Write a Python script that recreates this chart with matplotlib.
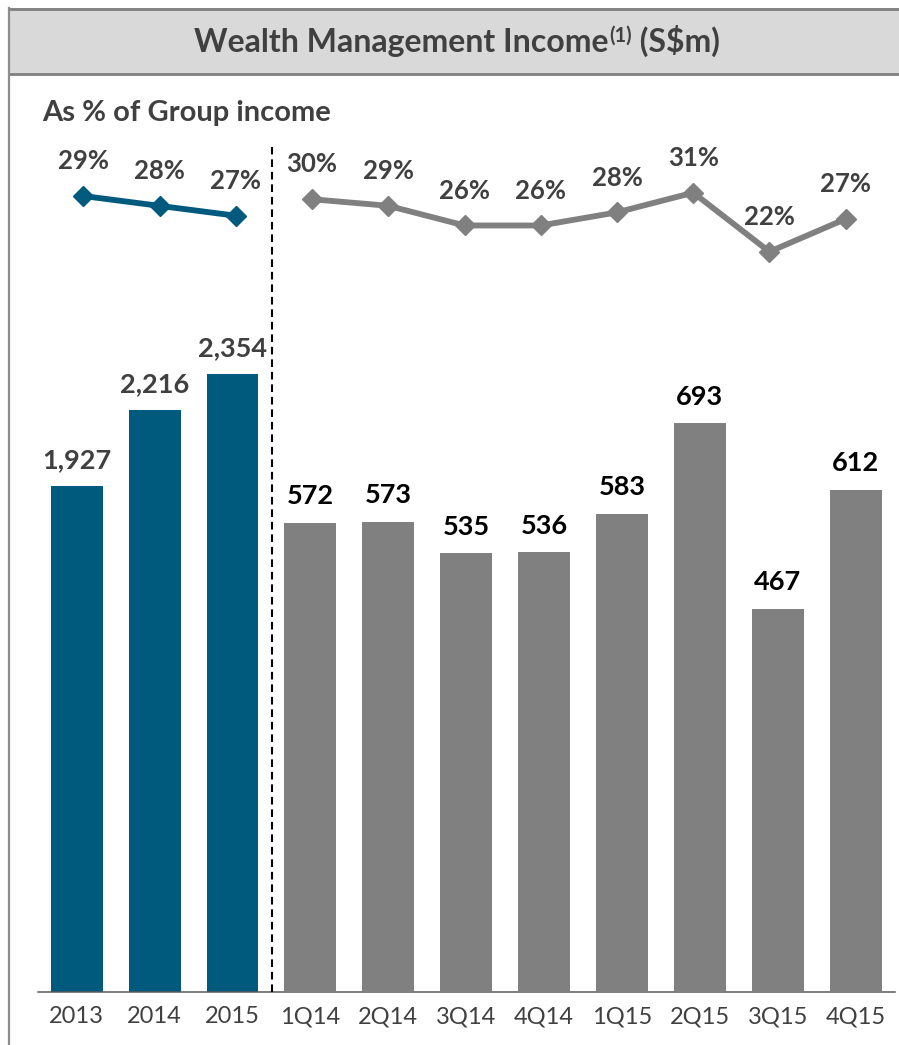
import matplotlib
matplotlib.use("Agg")
import matplotlib.pyplot as plt
from matplotlib.patches import Rectangle
from matplotlib.lines import Line2D

plt.rcParams["font.family"] = ["Lato", "DejaVu Sans"]
plt.rcParams["lines.scale_dashes"] = False

# ---- data -------------------------------------------------------------
categories = ["2013", "2014", "2015", "1Q14", "2Q14", "3Q14", "4Q14",
              "1Q15", "2Q15", "3Q15", "4Q15"]
annual_income = [1927, 2216, 2354]
quarterly_income = [572, 573, 535, 536, 583, 693, 467, 612]
annual_share = [29, 28, 27]
quarterly_share = [30, 29, 26, 26, 28, 31, 22, 27]

TEAL = "#005A7D"
GREY = "#808080"
DARK = "#404040"

W, H = 899, 1045
fig = plt.figure(figsize=(W / 100, H / 100), dpi=100)
fig.patch.set_facecolor("white")


def fx(x):
    return x / W


def fy(y):
    return 1 - y / H


def rect(x0, y0, x1, y1):
    """Axes rectangle from pixel edges (y measured from the top)."""
    return [fx(x0), fy(y1), fx(x1) - fx(x0), fy(y0) - fy(y1)]


# ---- frame and header band --------------------------------------------
fig.patches.append(Rectangle((fx(9), fy(74)), 1.0, fy(8) - fy(74),
                             transform=fig.transFigure, facecolor="#D9D9D9",
                             edgecolor="none", zorder=0))
for yy in (8.5, 74):
    fig.lines.append(Line2D([fx(9), 1.0], [fy(yy), fy(yy)],
                            transform=fig.transFigure, color="#7F7F7F",
                            linewidth=2.0, zorder=1))
fig.lines.append(Line2D([fx(9), fx(9)], [fy(7.5), 0.0],
                        transform=fig.transFigure, color="#8C8C8C",
                        linewidth=1.6, zorder=1))

# ---- bars ---------------------------------------------------------------
n_a = len(annual_income)
x_all = list(range(len(categories)))
x_a = x_all[:n_a]
x_q = x_all[n_a:]

ax_a = fig.add_axes(rect(37.75, 140, 894.65, 991.7))
ax_q = ax_a.twinx()
for ax in (ax_a, ax_q):
    ax.set_xlim(-0.5, len(categories) - 0.5)
    ax.patch.set_visible(False)
    for s in ("top", "right", "left"):
        ax.spines[s].set_visible(False)
    ax.set_yticks([])
ax_q.spines["bottom"].set_visible(False)
ax_a.spines["bottom"].set_color("#595959")
ax_a.spines["bottom"].set_linewidth(1.1)
ax_a.set_ylim(0, 3246)
ax_q.set_ylim(0, 1038.4)

bar_w = 0.667
ax_a.bar(x_a, annual_income, width=bar_w, color=TEAL, zorder=2)
ax_q.bar(x_q, quarterly_income, width=bar_w, color=GREY, zorder=2)

for x, v in zip(x_a, annual_income):
    ax_a.annotate(f"{v:,}", xy=(x, v), xytext=(0, 13.2),
                  textcoords="offset points", ha="center", va="baseline",
                  fontsize=19.5, fontweight="bold", color=DARK)
for x, v in zip(x_q, quarterly_income):
    ax_q.annotate(f"{v:,}", xy=(x, v), xytext=(0, 13.2),
                  textcoords="offset points", ha="center", va="baseline",
                  fontsize=19.5, fontweight="bold", color="black")

ax_a.set_xticks(x_all)
ax_a.set_xticklabels(categories, fontsize=17, color=DARK)
ax_a.tick_params(axis="x", length=0, pad=10.5)

# separator between annual and quarterly periods
ax_a.axvline(n_a - 0.5 + (272.3 - (37.75 + 77.9 * 3)) / 77.9,
             ymin=0, ymax=(991.7 - 147) / (991.7 - 140),
             color="black", linewidth=1.5, dashes=(5.5, 3.5), zorder=3)

# ---- share-of-group-income lines -------------------------------------
ax_la = fig.add_axes(rect(45.2, 140, 883.8, 280))
ax_lq = fig.add_axes(rect(45.2, 140, 883.8, 280))
for ax in (ax_la, ax_lq):
    ax.set_xlim(-0.5, len(categories) - 0.5)
    ax.axis("off")
    ax.patch.set_visible(False)
ax_la.set_ylim(20.47, 34.69)
ax_lq.set_ylim(17.69, 39.03)

ax_la.plot(x_a, annual_share, color=TEAL, linewidth=4.2, marker="D",
           markersize=10, solid_joinstyle="miter", zorder=3)
ax_lq.plot(x_q, quarterly_share, color=GREY, linewidth=4.2, marker="D",
           markersize=10, solid_joinstyle="miter", zorder=3)
for ax, xs, vs in ((ax_la, x_a, annual_share), (ax_lq, x_q, quarterly_share)):
    for x, v in zip(xs, vs):
        ax.annotate(f"{v}%", xy=(x, v), xytext=(0, 19.3),
                    textcoords="offset points", ha="center", va="baseline",
                    fontsize=18.5, fontweight="bold", color=DARK)

# ---- titles ---------------------------------------------------------------
renderer = fig.canvas.get_renderer()
main_kw = dict(fontsize=23, fontweight="bold", color=DARK, va="baseline",
               ha="left")
t1 = fig.text(0, fy(52), "Wealth Management Income", **main_kw)
t2 = fig.text(0, fy(42), "(1)", fontsize=14.5, fontweight="bold",
              color=DARK, va="baseline", ha="left")
t3 = fig.text(0, fy(52), " (S$m)", **main_kw)
w1 = t1.get_window_extent(renderer).width
w2 = t2.get_window_extent(renderer).width
w3 = t3.get_window_extent(renderer).width
start = 456.5 - (w1 + w2 + w3) / 2
t1.set_x(fx(start))
t2.set_x(fx(start + w1 + 1))
t3.set_x(fx(start + w1 + w2 + 1))

fig.text(fx(41.7), fy(121), "As % of Group income", fontsize=21,
         fontweight="bold", color=DARK, va="baseline", ha="left")

fig.savefig("out.png", dpi=100)
